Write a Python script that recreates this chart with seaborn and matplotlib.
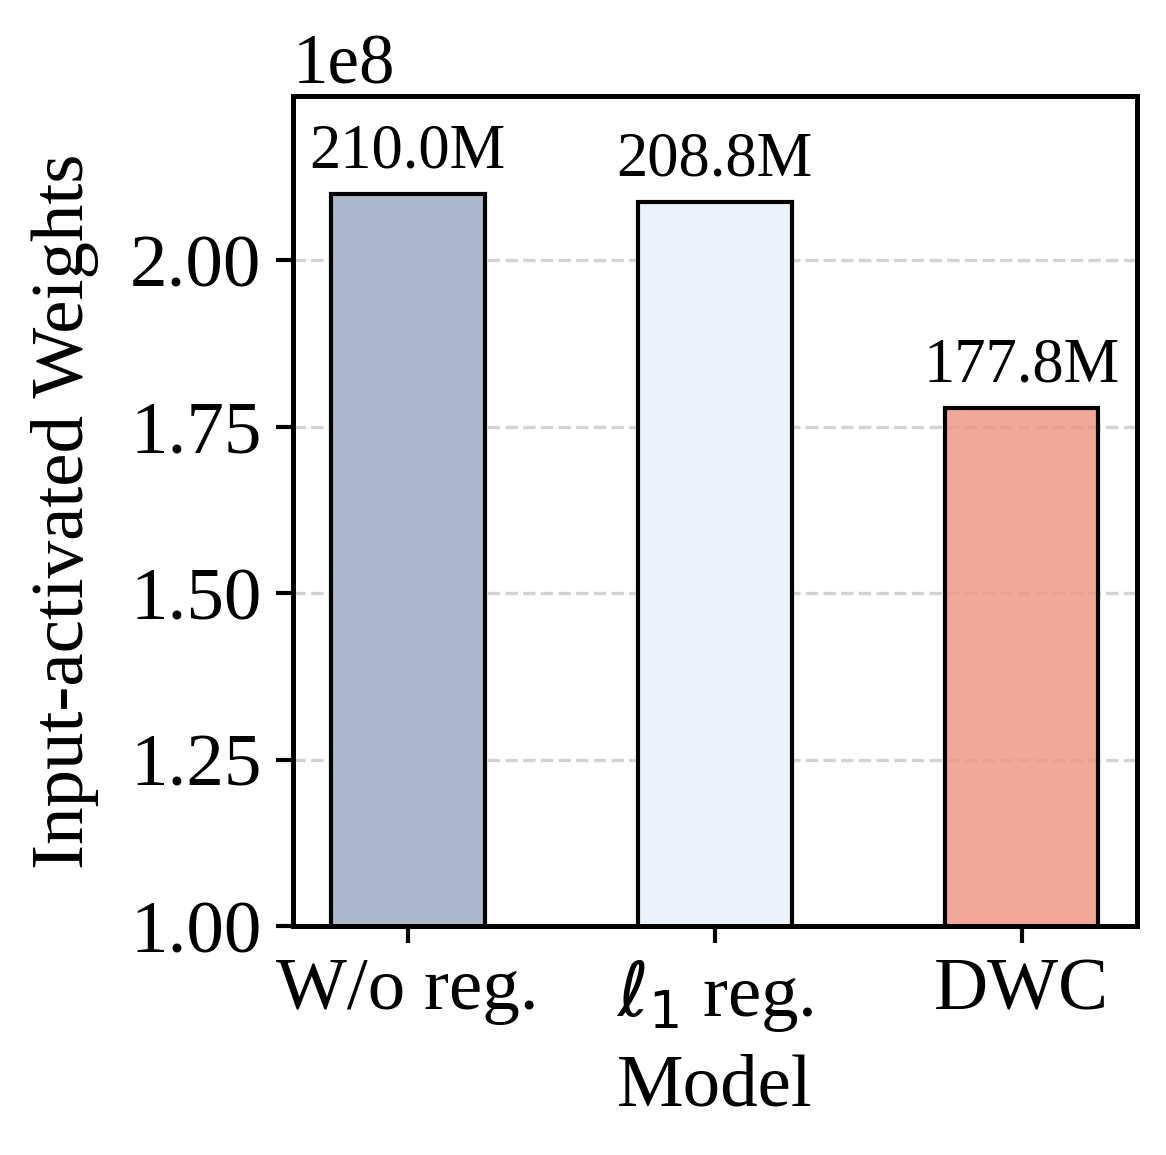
import matplotlib
matplotlib.use("Agg")
import matplotlib.pyplot as plt
import seaborn as sns
import pandas as pd

models = ["W/o reg.", r"$\ell_1$ reg.", "DWC"]
weights = [210.0e6, 208.8e6, 177.8e6]
bar_colors = ["#ADB9CA", "#EDF1FA", "#EF9986"]
bar_alphas = [1.0, 1.0, 0.85]

sns.set_style("ticks")
plt.rcParams["font.family"] = ["Liberation Serif", "DejaVu Serif"]
plt.rcParams["mathtext.fontset"] = "dejavusans"
for k in ["text.color", "axes.labelcolor", "xtick.color", "ytick.color", "axes.edgecolor"]:
    plt.rcParams[k] = "black"

df = pd.DataFrame({"Model": models, "Weights": weights})

fig = plt.figure(figsize=(1166 / 300, 1155 / 300), dpi=300)
ax = fig.add_axes([0.251, 0.198, 0.724, 0.719])

sns.barplot(data=df, x="Model", y="Weights", hue="Model", palette=bar_colors,
            saturation=1.0, width=0.5, edgecolor="black", linewidth=1.0,
            legend=False, ax=ax, zorder=2)

for p, a in zip(ax.patches, bar_alphas):
    fc = p.get_facecolor()
    p.set_facecolor((fc[0], fc[1], fc[2], a))
    p.set_edgecolor("black")

for cont in ax.containers:
    ax.bar_label(cont, labels=[f"{v.get_height()/1e6:.1f}M" for v in cont],
                 padding=3, fontsize=15, color="black")

ax.set_xlim(-0.375, 2.375)
ax.set_ylim(1.0e8, max(weights) * 1.07)
ax.yaxis.grid(True, linestyle="--", color="#d3d3d3", linewidth=0.8, zorder=1)
ax.set_axisbelow(True)

ax.set_xlabel("Model", fontsize=18, color="black", labelpad=5)
ax.set_ylabel("Input-activated Weights", fontsize=18, color="black", labelpad=7.5)
ax.tick_params(axis="both", labelsize=18, width=1.0, length=4,
               color="black", labelcolor="black")
ax.yaxis.get_offset_text().set_fontsize(17)
ax.yaxis.get_offset_text().set_color("black")
for s in ax.spines.values():
    s.set_linewidth(1.2)
    s.set_color("black")

fig.savefig("out.png", dpi=300)
